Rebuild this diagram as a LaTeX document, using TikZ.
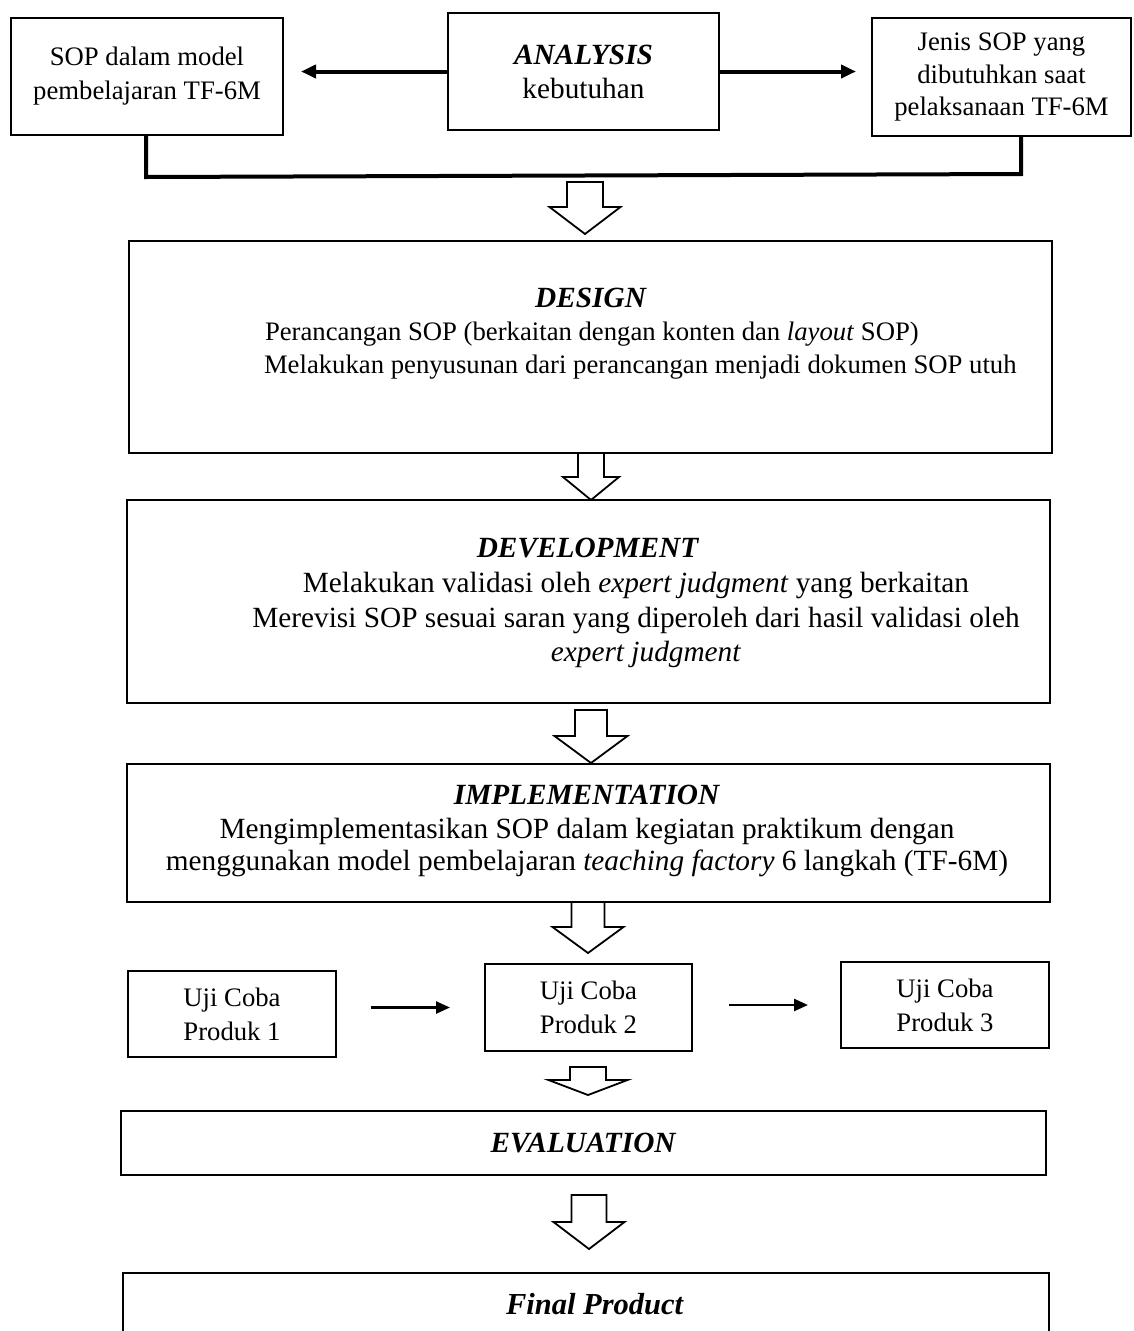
\documentclass[tikz,border=0pt]{standalone}
\usepackage{fontspec}
\setmainfont{Liberation Serif}
\usetikzlibrary{arrows.meta}

\tikzset{every picture/.style={line width=2pt}}
\tikzset{
  box/.style={draw, line width=2pt, inner sep=0pt, align=center, font=\fontsize{29.3}{34}\selectfont},
  smallbox/.style={box, font=\fontsize{26.7}{34}\selectfont},
  txt/.style={inner sep=0pt, font=\fontsize{29.3}{34}\selectfont},
  smalltxt/.style={inner sep=0pt, font=\fontsize{26.7}{33}\selectfont},
  thickarrow/.style={line width=4pt, -{Triangle[length=15pt,width=13pt]}},
  ujiarrow/.style={line width=2.5pt, -{Triangle[length=14pt,width=12pt]}},
  bracketline/.style={line width=4pt, line join=miter},
  hollowline/.style={line width=1.8pt, line join=miter, fill=white},
  pics/hollow/.style n args={4}{code={
    \draw[hollowline] (-#1,0) -- (#1,0) -- (#1,-#3) -- (#2,-#3) -- (0,-#4) -- (-#2,-#3) -- (-#1,-#3) -- cycle ;
  }}
}
\newcommand{\bi}[1]{\textbf{\textit{#1}}}

\begin{document}
\begin{tikzpicture}[x=1pt,y=1pt,yscale=-1,xscale=1]
\useasboundingbox (0,0) rectangle (1134,1331); %set diagram to the reference size

%Shape: Rectangle [analysis row]
\node[smallbox, minimum width=272, minimum height=117] (sop) at (147,76) {SOP dalam model\\pembelajaran TF-6M};
\node[box, minimum width=271, minimum height=117] (analysis) at (583.5,71.5) {\bi{ANALYSIS}\\kebutuhan};
\node[smallbox, minimum width=259, minimum height=118, font=\fontsize{26.7}{32.5}\selectfont] (jenis) at (1001.5,77) {Jenis SOP yang\\dibutuhkan saat\\pelaksanaan TF-6M};

%Straight Lines
\draw[thickarrow, shorten >=17pt] (analysis.west) -- (analysis.west -| sop.east) ;
\draw[thickarrow, shorten >=15pt] (analysis.east) -- (analysis.east -| jenis.west) ;
%Straight Lines [joining bracket]
\coordinate (jl) at (146,177) ;
\coordinate (jr) at (1021,174) ;
\draw[bracketline] (sop.south -| jl) -- (jl) -- (jr) -- (jenis.south -| jr) ;

%Shape: Rectangle [design]
\node[box, minimum width=923, minimum height=212] (design) at (590.5,347) {};
% Text Node
\node[txt, anchor=base] (designT) at (591,307) {\bi{DESIGN}};
% Text Node
\node[smalltxt, anchor=base west] (designA) at (264,340) {Perancangan SOP (berkaitan dengan konten dan \textit{layout} SOP)};
% Text Node
\node[smalltxt, anchor=base west] (designB) at (263,373) {Melakukan penyusunan dari perancangan menjadi dokumen SOP utuh};

%Shape: Rectangle [development]
\node[box, minimum width=923, minimum height=203] (develop) at (588.5,601.5) {};
% Text Node
\node[txt, anchor=base] (developT) at (588,557) {\bi{DEVELOPMENT}};
% Text Node
\node[txt, anchor=base] (developA) at (636,592) {Melakukan validasi oleh \textit{expert judgment} yang berkaitan};
% Text Node
\node[txt, anchor=base] (developB) at (636,627) {Merevisi SOP sesuai saran yang diperoleh dari hasil validasi oleh};
% Text Node
\node[txt, anchor=base] (developC) at (646,661) {\textit{expert judgment}};

%Shape: Rectangle [implementation]
\node[box, minimum width=923, minimum height=138] (impl) at (588.5,833) {};
% Text Node
\node[txt, anchor=base] (implT) at (587,804) {\bi{IMPLEMENTATION}};
% Text Node
\node[txt, anchor=base] (implA) at (587,838) {Mengimplementasikan SOP dalam kegiatan praktikum dengan};
% Text Node
\node[txt, anchor=base] (implB) at (587,870) {menggunakan model pembelajaran \textit{teaching factory} 6 langkah (TF-6M)};

%Shape: Rectangle [trials]
\node[smallbox, minimum width=208, minimum height=86] (uji1) at (232,1014) {Uji Coba\\Produk 1};
\node[smallbox, minimum width=207, minimum height=87] (uji2) at (588.5,1007.5) {Uji Coba\\Produk 2};
\node[smallbox, minimum width=208, minimum height=86] (uji3) at (945,1005) {Uji Coba\\Produk 3};
%Straight Lines
\draw[ujiarrow, shorten <=34pt, shorten >=34pt] (uji2.west -| uji1.east) -- (uji2.west) ;
\draw[ujiarrow, shorten <=36pt, shorten >=32pt] (uji3.west -| uji2.east) -- (uji3.west) ;

%Shape: Rectangle [evaluation]
\node[box, minimum width=925, minimum height=64] (eval) at (583.5,1143) {\bi{EVALUATION}};

%Shape: Rectangle [final product]
\node[box, minimum width=926, minimum height=130] (final) at (586,1338) {};
% Text Node
\node[txt, anchor=base, font=\fontsize{30.5}{34}\selectfont] (finalT) at (595,1314) {\bi{Final Product}};

%Shape: Down Arrow
\pic at (585,182) {hollow={18}{35.5}{25}{52}};
\pic at (591,453) {hollow={13}{28}{24}{47}};
\pic at (591,710) {hollow={16}{36.5}{26}{53}};
\pic at (588,902) {hollow={16.5}{35.5}{25}{51}};
\pic at (588,1067) {hollow={18}{39.5}{13}{28}};
\pic at (589,1195) {hollow={17.5}{35.5}{27}{54}};

\end{tikzpicture}
\end{document}
